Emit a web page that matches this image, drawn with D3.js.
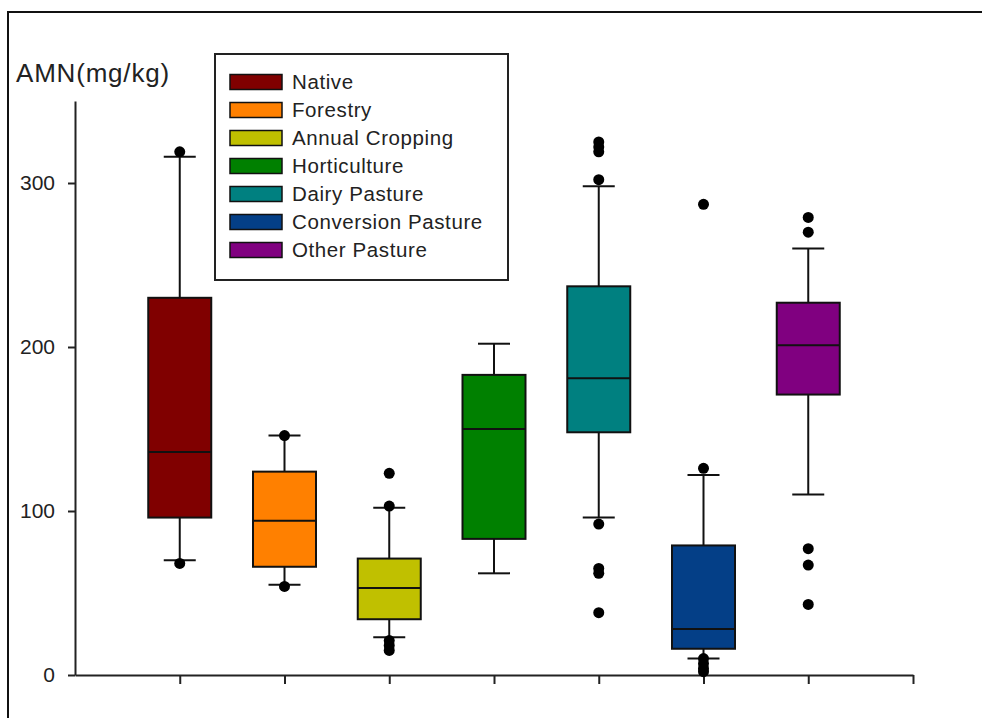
<!DOCTYPE html>
<html>
<head>
<meta charset="utf-8">
<script src="https://cdn.jsdelivr.net/npm/d3@7"></script>
<style>
    body { margin: 0; background: #fff; }
    text { font-family: Arial, "Liberation Sans", sans-serif; fill: #222; }
</style>
</head>
<body>
<svg class="chart"></svg>
<script>
// land use categories and their box colours
var categories = ['Native', 'Forestry', 'Annual Cropping', 'Horticulture', 'Dairy Pasture', 'Conversion Pasture', 'Other Pasture'];
var colors = ['#800000', '#ff8000', '#c0c000', '#008000', '#008080', '#043f87', '#800080'];

// box statistics, AMN (mg/kg)
var whiskerLow = [70, 55, 23, 62, 96, 10, 110];
var q1 = [96, 66, 34, 83, 148, 16, 171];
var median = [136, 94, 53, 150, 181, 28, 201];
var q3 = [230, 124, 71, 183, 237, 79, 227];
var whiskerHigh = [316, 146, 102, 202, 298, 122, 260];
var outliers = [
    [68, 319],
    [54, 146],
    [15, 18, 21, 103, 123],
    [],
    [38, 62, 65, 92, 302, 319, 322, 325],
    [2, 4, 7, 10, 126, 287],
    [43, 67, 77, 270, 279]
];
var yTicks = [0, 100, 200, 300];

var W = 982, H = 718;
var chart = d3.select('.chart').attr('width', W).attr('height', H);

// outer frame runs off the picture on the right and bottom
chart.append('rect').attr('x', 8).attr('y', 12).attr('width', 1000).attr('height', 800)
    .attr('fill', 'none').attr('stroke', '#111').attr('stroke-width', 2);

var x = d3.scaleLinear().domain([0, 8]).range([75, 913]);
var y = d3.scaleLinear().domain([0, 350]).range([675, 101]);
var boxW = 63, capW = 32;

var yAxis = chart.append('g').attr('transform', 'translate(75,0)')
    .call(d3.axisLeft(y).tickValues(yTicks).tickSize(7).tickSizeOuter(0).tickPadding(13));
var xAxis = chart.append('g').attr('transform', 'translate(0,675)')
    .call(d3.axisBottom(x).tickValues(d3.range(1, 9)).tickFormat('').tickSize(9).tickSizeOuter(0));
[yAxis, xAxis].forEach(function (a) {
    a.select('.domain').attr('stroke', '#222').attr('stroke-width', 2);
    a.selectAll('.tick line').attr('stroke', '#222').attr('stroke-width', 2);
});
yAxis.selectAll('.tick text').attr('font-size', 21).attr('fill', '#333')
    .style('font-family', 'Arial, "Liberation Sans", sans-serif');

chart.append('text').attr('x', 16).attr('y', 82).attr('font-size', 26).attr('fill', '#333')
    .attr('letter-spacing', 0.8)
    .text('AMN(mg/kg)');

var rows = categories.map(function (c, i) {
    return {name: c, color: colors[i], lo: whiskerLow[i], q1: q1[i], med: median[i],
        q3: q3[i], hi: whiskerHigh[i], out: outliers[i], pos: i + 1};
});

var box = chart.append('g').selectAll('g').data(rows).enter().append('g')
    .attr('transform', function (d) { return 'translate(' + x(d.pos) + ',0)'; });

// whiskers
box.append('line').attr('x1', 0).attr('x2', 0)
    .attr('y1', function (d) { return y(d.hi); }).attr('y2', function (d) { return y(d.lo); })
    .attr('stroke', '#111').attr('stroke-width', 2);
box.selectAll('line.cap').data(function (d) { return [d.lo, d.hi]; }).enter().append('line')
    .attr('class', 'cap')
    .attr('x1', -capW / 2).attr('x2', capW / 2)
    .attr('y1', function (v) { return y(v); }).attr('y2', function (v) { return y(v); })
    .attr('stroke', '#111').attr('stroke-width', 2);

// boxes
box.append('rect').attr('x', -boxW / 2).attr('width', boxW)
    .attr('y', function (d) { return y(d.q3); })
    .attr('height', function (d) { return y(d.q1) - y(d.q3); })
    .attr('fill', function (d) { return d.color; })
    .attr('stroke', '#111').attr('stroke-width', 2);
box.append('line').attr('x1', -boxW / 2).attr('x2', boxW / 2)
    .attr('y1', function (d) { return y(d.med); }).attr('y2', function (d) { return y(d.med); })
    .attr('stroke', '#111').attr('stroke-width', 2);

// outliers
box.selectAll('circle').data(function (d) { return d.out; }).enter().append('circle')
    .attr('cx', 0).attr('cy', function (v) { return y(v); }).attr('r', 5.5)
    .attr('fill', '#000');

// legend
var legend = chart.append('g').attr('transform', 'translate(215,54)');
legend.append('rect').attr('width', 293).attr('height', 226)
    .attr('fill', '#fff').attr('stroke', '#222').attr('stroke-width', 2);
var item = legend.selectAll('g.item').data(rows).enter().append('g').attr('class', 'item')
    .attr('transform', function (d, i) { return 'translate(15,' + (28 + i * 28) + ')'; });
item.append('rect').attr('x', 0).attr('y', -7.5).attr('width', 52).attr('height', 15)
    .attr('fill', function (d) { return d.color; }).attr('stroke', '#111').attr('stroke-width', 1.5);
item.append('text').attr('x', 62).attr('y', 7).attr('font-size', 20.5).attr('fill', '#222')
    .attr('letter-spacing', 0.6)
    .text(function (d) { return d.name; });
</script>
</body>
</html>
